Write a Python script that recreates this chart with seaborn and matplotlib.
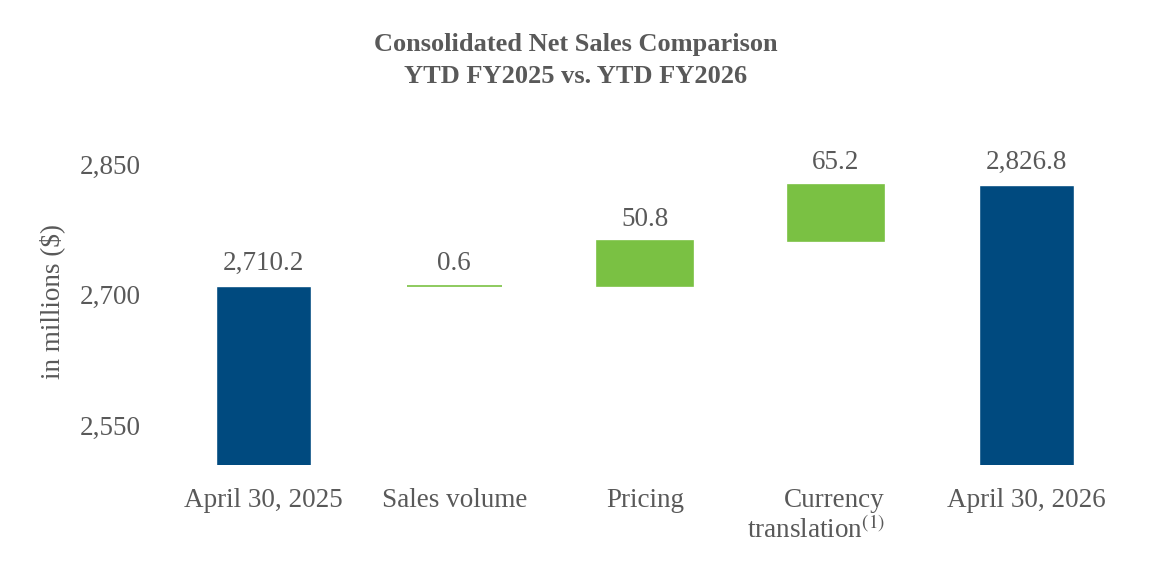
import pandas as pd
import numpy as np
import matplotlib.pyplot as plt
import matplotlib.transforms as mtransforms
import seaborn as sns

# valeurs (millions $)
categories = ['April 30, 2025', 'Sales volume', 'Pricing', 'Currency\ntranslation$^{(1)}$', 'April 30, 2026']
kinds = ['total', 'change', 'change', 'change', 'total']
values = [2710.2, 0.6, 50.8, 65.2, 2826.8]
labels = ['2,710.2', '0.6', '50.8', '65.2', '2,826.8']

# bases de la cascade
bases, tops = [], []
running = 0.0
for k, v in zip(kinds, values):
    if k == 'total':
        bases.append(0.0)
        running = v
        tops.append(v)
    else:
        bases.append(running)
        running += v
        tops.append(running)

df = pd.DataFrame({'cat': categories, 'kind': kinds, 'value': values,
                   'base': bases, 'top': tops, 'label': labels})

sns.set_style('white')
plt.rcParams['font.family'] = ['Liberation Serif', 'DejaVu Serif']
plt.rcParams['mathtext.fontset'] = 'stix'
grey = '#595959'
blue = '#004A7F'
green = '#7AC143'
fs = 19.5

fig = plt.figure(figsize=(11.52, 5.76), dpi=100)
ax = fig.add_axes([0.146, 0.193, 0.828, 0.566])

tot = df[df['kind'] == 'total']
chg = df[df['kind'] == 'change']
sns.barplot(data=tot, x='cat', y='value', order=categories, color=blue,
            width=0.5, saturation=1, ax=ax)
sns.barplot(data=chg, x='cat', y='value', order=categories, color=green,
            width=0.5, saturation=1, ax=ax, bottom=chg['base'].values,
            edgecolor=green, linewidth=1.2)

ax.set_ylim(2504, 2880)
ax.set_xlim(-0.5, 4.5)
ax.set_yticks([2550, 2700, 2850])
ax.set_yticklabels(['2,550', '2,700', '2,850'])
ax.tick_params(axis='both', length=0, labelsize=fs, colors=grey)
ax.tick_params(axis='y', pad=20)
ax.tick_params(axis='x', pad=17)
xl = ax.get_xticklabels()
for lbl in xl:
    lbl.set_linespacing(1.15)
xl[3].set_multialignment('right')
xl[3].set_transform(xl[3].get_transform() + mtransforms.ScaledTranslation(-0.2, 0, fig.dpi_scale_trans))
sns.despine(ax=ax, left=True, bottom=True)
ax.set_xlabel('')
ax.set_ylabel('in millions ($)', fontsize=fs, color=grey, labelpad=10)

for i, row in df.iterrows():
    ax.annotate(row['label'], (i, row['top']), xytext=(0, 7), textcoords='offset points',
                ha='center', va='bottom', fontsize=fs, color=grey)

fig.text(0.5, 0.943, 'Consolidated Net Sales Comparison\nYTD FY2025 vs. YTD FY2026',
         ha='center', va='top', fontsize=19, fontweight='bold', color=grey, linespacing=1.5)

plt.savefig('out.png', dpi=100)
